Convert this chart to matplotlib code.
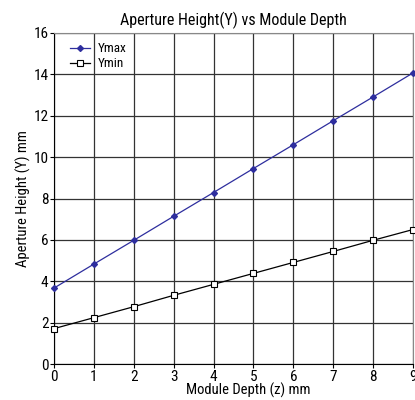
import matplotlib
matplotlib.use("Agg")
import matplotlib.pyplot as plt
from matplotlib import font_manager

depth = [0, 1, 2, 3, 4, 5, 6, 7, 8, 9]
ymax = [3.67, 4.83, 5.98, 7.14, 8.29, 9.45, 10.60, 11.76, 12.91, 14.07]
ymin = [1.71, 2.24, 2.77, 3.32, 3.85, 4.38, 4.91, 5.44, 5.98, 6.50]
yticks = [0, 2, 4, 6, 8, 10, 12, 14, 16]

names = {f.name for f in font_manager.fontManager.ttflist}
fam = [f for f in ['Liberation Sans Narrow', 'Roboto Condensed', 'Liberation Sans'] if f in names] + ['DejaVu Sans']
plt.rcParams['font.family'] = fam

fig = plt.figure(figsize=(4.15, 4.0), dpi=100)
ax = fig.add_axes([54/415, 36/400, (413-54)/415, (364-33)/400])

ax.plot(depth, ymax, color='#2e2e9e', lw=0.9, marker='D', ms=3.0,
        mfc='#2e2e9e', mec='#2e2e9e', label='Ymax', clip_on=False, zorder=3)
ax.plot(depth, ymin, color='black', lw=0.9, marker='s', ms=5,
        mfc='white', mec='black', mew=0.8, label='Ymin', clip_on=False, zorder=3)

ax.set_xlim(0, 9)
ax.set_ylim(0, 16)
ax.set_xticks(depth)
ax.set_yticks(yticks)
ax.grid(True, color='#333333', lw=0.9)
ax.set_axisbelow(True)
for s in ['top', 'right']:
    ax.spines[s].set_color('#888888')
for s in ['left', 'bottom']:
    ax.spines[s].set_color('black')
ax.tick_params(labelsize=11, length=3, width=0.8, pad=1)

ax.set_title('Aperture Height(Y) vs Module Depth', fontsize=11.5, pad=6)
ax.set_xlabel('Module Depth (z) mm', fontsize=10.5, labelpad=0)
ax.xaxis.set_label_coords(0.54, -0.055)
ax.set_ylabel('Aperture Height (Y) mm', fontsize=10.5, labelpad=2)

ax.legend(loc='upper left', frameon=False, fontsize=9.5, handlelength=1.5,
          handletextpad=0.6, labelspacing=0.15, borderaxespad=0.3,
          bbox_to_anchor=(0.02, 1.0))

fig.savefig('out.png', dpi=100)
